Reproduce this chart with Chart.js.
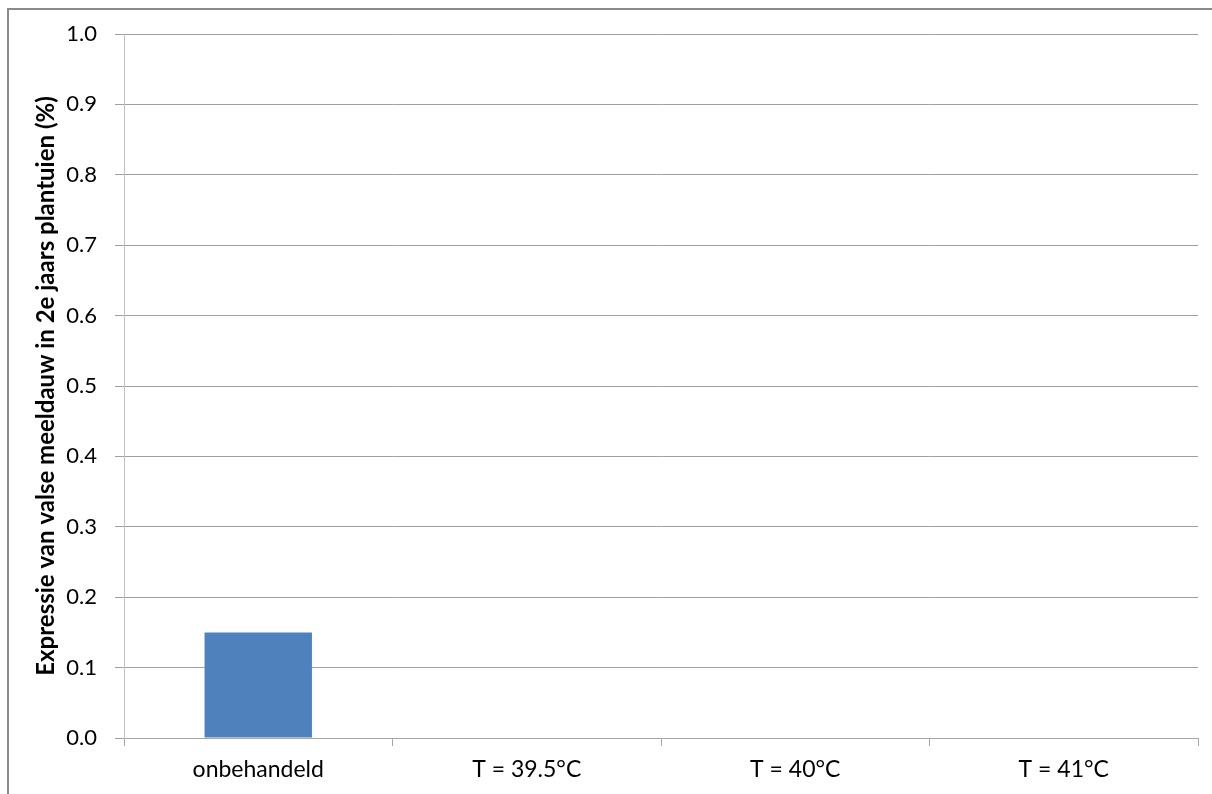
<!DOCTYPE html>
<html>
<head>
<meta charset="utf-8">
<script src="https://cdn.jsdelivr.net/npm/chart.js@4/dist/chart.umd.min.js"></script>
<style>
  html, body { margin: 0; padding: 0; background: #ffffff; }
  #wrap { width: 1212px; height: 794px; position: relative; }
</style>
</head>
<body>
<div id="wrap"><canvas id="chart"></canvas></div>
<script>
// Treatments and the share of second-year onion sets showing downy mildew
const categories = ['onbehandeld', 'T = 39.5°C', 'T = 40°C', 'T = 41°C'];
const expressionValues = [0.15, 0, 0, 0];
const yTitle = 'Expressie van valse meeldauw in 2e jaars plantuien (%)';

const FONT = 'Lato, "Open Sans", sans-serif';

// Thin gray frame around the whole chart object
const framePlugin = {
  id: 'frame',
  beforeDraw(chart) {
    const ctx = chart.ctx;
    ctx.save();
    ctx.strokeStyle = '#8a8a8a';
    ctx.lineWidth = 2;
    ctx.strokeRect(8, 9, chart.width + 20, chart.height + 20);
    ctx.restore();
  }
};

new Chart(document.getElementById('chart'), {
  type: 'bar',
  data: {
    labels: categories,
    datasets: [{
      data: expressionValues,
      backgroundColor: '#4f81bd',
      borderWidth: 0,
      barPercentage: 0.4,
      categoryPercentage: 1.0
    }]
  },
  options: {
    responsive: true,
    maintainAspectRatio: false,
    animation: false,
    layout: { padding: { top: 34, right: 14, bottom: 0, left: 0 } },
    plugins: {
      legend: { display: false },
      tooltip: { enabled: false }
    },
    scales: {
      x: {
        grid: {
          display: true,
          drawOnChartArea: false,
          drawTicks: true,
          tickLength: 8,
          color: '#a6a6a6',
          offset: true
        },
        border: { display: true, color: '#a6a6a6', width: 1 },
        ticks: {
          color: '#000000',
          font: { family: FONT, size: 23 },
          padding: 10,
          maxRotation: 0
        },
        afterFit(scale) { scale.height = 56; }
      },
      y: {
        min: 0,
        max: 1,
        grid: {
          color: '#a0a0a0',
          tickLength: 9,
          drawTicks: true
        },
        border: { display: true, color: '#c0c0c0', width: 1 },
        ticks: {
          stepSize: 0.1,
          color: '#000000',
          font: { family: FONT, size: 22 },
          padding: 18,
          callback: v => Number(v).toFixed(1)
        },
        title: {
          display: true,
          text: yTitle,
          color: '#000000',
          font: { family: FONT, size: 24, weight: 'bold' },
          padding: { top: 32, bottom: 0 }
        },
        afterFit(scale) { scale.width = 124; }
      }
    }
  },
  plugins: [framePlugin]
});
</script>
</body>
</html>
